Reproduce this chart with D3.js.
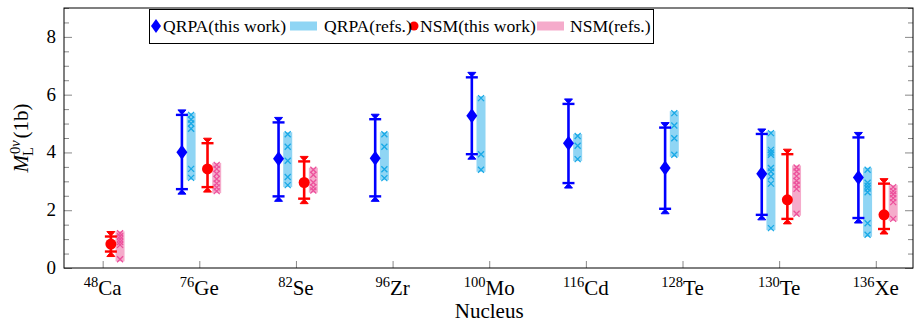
<!DOCTYPE html>
<html>
<head>
<meta charset="utf-8">
<script src="https://cdn.jsdelivr.net/npm/d3@7"></script>
<style>
    body { margin: 0; background: #fff; }
</style>
</head>
<body>
<svg id="chart"></svg>
<script>
// nuclei on the x axis
const masses = [48, 76, 82, 96, 100, 116, 128, 130, 136];
const symbols = ['Ca', 'Ge', 'Se', 'Zr', 'Mo', 'Cd', 'Te', 'Te', 'Xe'];

// QRPA (this work): index into nuclei, central value, lower / upper end of bar
const qrpaIdx = [1, 2, 3, 4, 5, 6, 7, 8];
const qrpaVal = [4.01, 3.78, 3.80, 5.27, 4.32, 3.46, 3.26, 3.13];
const qrpaLo = [2.73, 2.48, 2.48, 3.94, 2.94, 2.05, 1.84, 1.73];
const qrpaHi = [5.30, 5.04, 5.15, 6.60, 5.68, 4.86, 4.64, 4.52];

// QRPA (refs.): individual values per nucleus
const qrpaRefs = [
    [5.30, 5.14, 5.00, 4.82, 3.43, 3.12],
    [4.63, 4.20, 3.71, 3.15, 2.87],
    [4.63, 4.20, 3.42, 3.11],
    [5.88, 3.94, 3.40],
    [4.57, 4.23, 3.77],
    [5.36, 4.93, 4.49, 3.92],
    [4.67, 4.09, 4.00, 3.92, 3.46, 3.34, 3.17, 2.92, 1.38],
    [3.40, 2.95, 2.85, 2.75, 2.62, 1.55, 1.15]
];

// NSM (this work)
const nsmIdx = [0, 1, 2, 7, 8];
const nsmVal = [0.83, 3.43, 2.96, 2.36, 1.84];
const nsmLo = [0.57, 2.80, 2.40, 1.70, 1.35];
const nsmHi = [1.09, 4.32, 3.69, 3.94, 2.92];

// NSM (refs.)
const nsmRefs = [
    [1.20, 1.10, 1.00, 0.90, 0.80, 0.30],
    [3.57, 3.43, 3.26, 3.08, 2.93, 2.79, 2.66],
    [3.40, 3.23, 2.96, 2.80, 2.68],
    [3.48, 3.34, 3.18, 3.02, 2.88, 2.74, 1.88],
    [2.80, 2.66, 2.55, 2.42, 2.28, 1.70]
];

const yTicks = [0, 2, 4, 6, 8];

const BLUE = '#0000ff', RED = '#ff0000';
const BAND_BLUE = '#8fd5f4', CROSS_BLUE = '#19a9e6';
const BAND_PINK = '#f5abcb', CROSS_PINK = '#ec509c';
const FONT = '"Liberation Serif"';

class RangeChart {
    constructor(_config) {
        this.config = {
            parentElement: _config.parentElement,
            containerWidth: 914,
            containerHeight: 324,
            margin: { top: 8, right: 1, bottom: 56, left: 64 }
        };
        this.initVis();
    }

    initVis() {
        let vis = this;
        vis.width = vis.config.containerWidth - vis.config.margin.left - vis.config.margin.right;
        vis.height = vis.config.containerHeight - vis.config.margin.top - vis.config.margin.bottom;

        vis.svg = d3.select(vis.config.parentElement)
            .attr('width', vis.config.containerWidth)
            .attr('height', vis.config.containerHeight);

        vis.chart = vis.svg.append('g')
            .attr('transform', `translate(${vis.config.margin.left},${vis.config.margin.top})`);

        vis.xScale = d3.scaleLinear().domain([-0.4, 8.385]).range([0, vis.width]);
        vis.yScale = d3.scaleLinear().domain([0, 9]).range([vis.height, 0]);

        vis.renderVis();
    }

    // every text gets the serif face directly
    txt(sel) {
        return sel.append('text').style('font-family', FONT);
    }

    renderVis() {
        let vis = this;
        const x = vis.xScale, y = vis.yScale;
        const minor = d3.range(0, 9.01, 0.5).filter(d => !yTicks.includes(d));

        // gray ticks, inside the box
        const ticks = vis.chart.append('g');
        const yAxisL = d3.axisRight(y).tickValues(yTicks).tickSize(8).tickFormat('');
        const yAxisLm = d3.axisRight(y).tickValues(minor).tickSize(5).tickFormat('');
        const yAxisR = d3.axisLeft(y).tickValues(yTicks).tickSize(8).tickFormat('');
        const yAxisRm = d3.axisLeft(y).tickValues(minor).tickSize(5).tickFormat('');
        const xAxis = d3.axisTop(x).tickValues(d3.range(masses.length)).tickSize(7).tickFormat('');
        [[yAxisL, 0, 0], [yAxisLm, 0, 0], [yAxisR, vis.width, 0], [yAxisRm, vis.width, 0], [xAxis, 0, vis.height]]
            .forEach(([ax, tx, ty]) => {
                const g = ticks.append('g').attr('transform', `translate(${tx},${ty})`).call(ax);
                g.select('.domain').remove();
                g.selectAll('line').attr('stroke', '#888');
            });

        // y tick labels
        yTicks.forEach(d => {
            vis.txt(vis.chart)
                .attr('x', -8)
                .attr('y', d => y(d) + 6)
                .attr('y', y(d) + 6)
                .attr('text-anchor', 'end')
                .attr('font-size', 19)
                .text(d);
        });

        // x tick labels
        masses.forEach((m, i) => {
            const t = vis.txt(vis.chart)
                .attr('x', x(i))
                .attr('y', vis.height + 27)
                .attr('text-anchor', 'middle');
            t.append('tspan').attr('font-size', 14.5).attr('dy', -8).text(m);
            t.append('tspan').attr('font-size', 21).attr('dy', 8).text(symbols[i]);
        });

        // axis title
        vis.txt(vis.chart)
            .attr('x', x(4))
            .attr('y', vis.height + 50)
            .attr('text-anchor', 'middle')
            .attr('font-size', 21)
            .text('Nucleus');

        const yt = vis.svg.append('g').attr('transform', `translate(28,${vis.config.margin.top + vis.height / 2}) rotate(-90)`);
        const tM = vis.txt(yt).attr('font-size', 21).attr('font-style', 'italic').text('M');
        const wM = tM.node().getComputedTextLength();
        const tSup = vis.txt(yt).attr('x', wM + 1).attr('y', -8).attr('font-size', 14.5);
        tSup.append('tspan').text('0');
        tSup.append('tspan').attr('font-style', 'italic').text('ν');
        const tSub = vis.txt(yt).attr('x', wM - 1).attr('y', 5).attr('font-size', 14.5).text('L');
        const wS = Math.max(tSup.node().getComputedTextLength() + 1, tSub.node().getComputedTextLength() - 1);
        const tR = vis.txt(yt).attr('x', wM + wS + 2).attr('font-size', 21).text('(1b)');
        const total = wM + wS + 2 + tR.node().getComputedTextLength();
        yt.selectAll('text').attr('transform', `translate(${-total / 2},0)`);

        const cross = (g, cx, cy, color) => {
            g.append('path')
                .attr('d', `M${cx - 3},${cy - 3}L${cx + 3},${cy + 3}M${cx - 3},${cy + 3}L${cx + 3},${cy - 3}`)
                .attr('stroke', color).attr('stroke-width', 1.3).attr('fill', 'none');
        };

        const band = (refs, idx, off, fill, color) => {
            const g = vis.chart.append('g');
            refs.forEach((vals, k) => {
                const cx = x(idx[k] + off);
                const top = y(d3.max(vals)) - 2, bot = y(d3.min(vals)) + 2;
                g.append('rect')
                    .attr('x', cx - 4.5).attr('y', top)
                    .attr('width', 9).attr('height', bot - top)
                    .attr('fill', fill);
                vals.forEach(v => cross(g, cx, y(v), color));
            });
        };

        const errBars = (idx, val, lo, hi, off, color, shape) => {
            const g = vis.chart.append('g').attr('stroke', color).attr('fill', color);
            idx.forEach((n, k) => {
                const cx = x(n + off);
                const yh = y(hi[k]), yl = y(lo[k]);
                g.append('line').attr('x1', cx).attr('x2', cx).attr('y1', yh - 4).attr('y2', yl + 4).attr('stroke-width', 2.6);
                [[yh, -1], [yl, 1]].forEach(([yy, s]) => {
                    g.append('line').attr('x1', cx - 6).attr('x2', cx + 6).attr('y1', yy).attr('y2', yy).attr('stroke-width', 2.4);
                    g.append('path')
                        .attr('d', `M${cx - 4},${yy + s * 5}L${cx + 4},${yy + s * 5}L${cx + 1.5},${yy + s * 2}L${cx - 1.5},${yy + s * 2}Z`)
                        .attr('stroke-width', 1);
                });
                const cy = y(val[k]);
                if (shape === 'diamond') {
                    g.append('path').attr('d', `M${cx},${cy - 7.5}L${cx + 5.5},${cy}L${cx},${cy + 7.5}L${cx - 5.5},${cy}Z`).attr('stroke', 'none');
                } else {
                    g.append('circle').attr('cx', cx).attr('cy', cy).attr('r', 5.5).attr('stroke', 'none');
                }
            });
        };

        band(qrpaRefs, qrpaIdx, -0.085, BAND_BLUE, CROSS_BLUE);
        band(nsmRefs, nsmIdx, 0.18, BAND_PINK, CROSS_PINK);
        errBars(qrpaIdx, qrpaVal, qrpaLo, qrpaHi, -0.18, BLUE, 'diamond');
        errBars(nsmIdx, nsmVal, nsmLo, nsmHi, 0.085, RED, 'circle');

        // frame
        vis.chart.append('rect')
            .attr('x', 0).attr('y', 0)
            .attr('width', vis.width).attr('height', vis.height)
            .attr('fill', 'none').attr('stroke', '#000').attr('stroke-width', 1);

        // legend
        const legend = vis.svg.append('g').attr('class', 'legend');
        legend.append('rect')
            .attr('x', 149.5).attr('y', 9.5).attr('width', 504).attr('height', 34)
            .attr('fill', '#fff').attr('stroke', '#000');
        const ly = 26;
        legend.append('path').attr('d', `M156,${ly - 7}L161,${ly}L156,${ly + 7}L151,${ly}Z`).attr('fill', BLUE);
        legend.append('rect').attr('x', 290).attr('y', ly - 4.5).attr('width', 27).attr('height', 9).attr('fill', BAND_BLUE);
        legend.append('circle').attr('cx', 414).attr('cy', ly).attr('r', 4.5).attr('fill', RED);
        legend.append('rect').attr('x', 537).attr('y', ly - 4.5).attr('width', 27).attr('height', 9).attr('fill', BAND_PINK);
        const labels = [[163, 'QRPA(this work)'], [324, 'QRPA(refs.)'], [420, 'NSM(this work)'], [570, 'NSM(refs.)']];
        labels.forEach(d => {
            vis.txt(legend)
                .attr('x', d[0])
                .attr('y', ly + 6)
                .attr('font-size', 17.6)
                .text(d[1]);
        });
    }
}

new RangeChart({ parentElement: '#chart' });
</script>
</body>
</html>
